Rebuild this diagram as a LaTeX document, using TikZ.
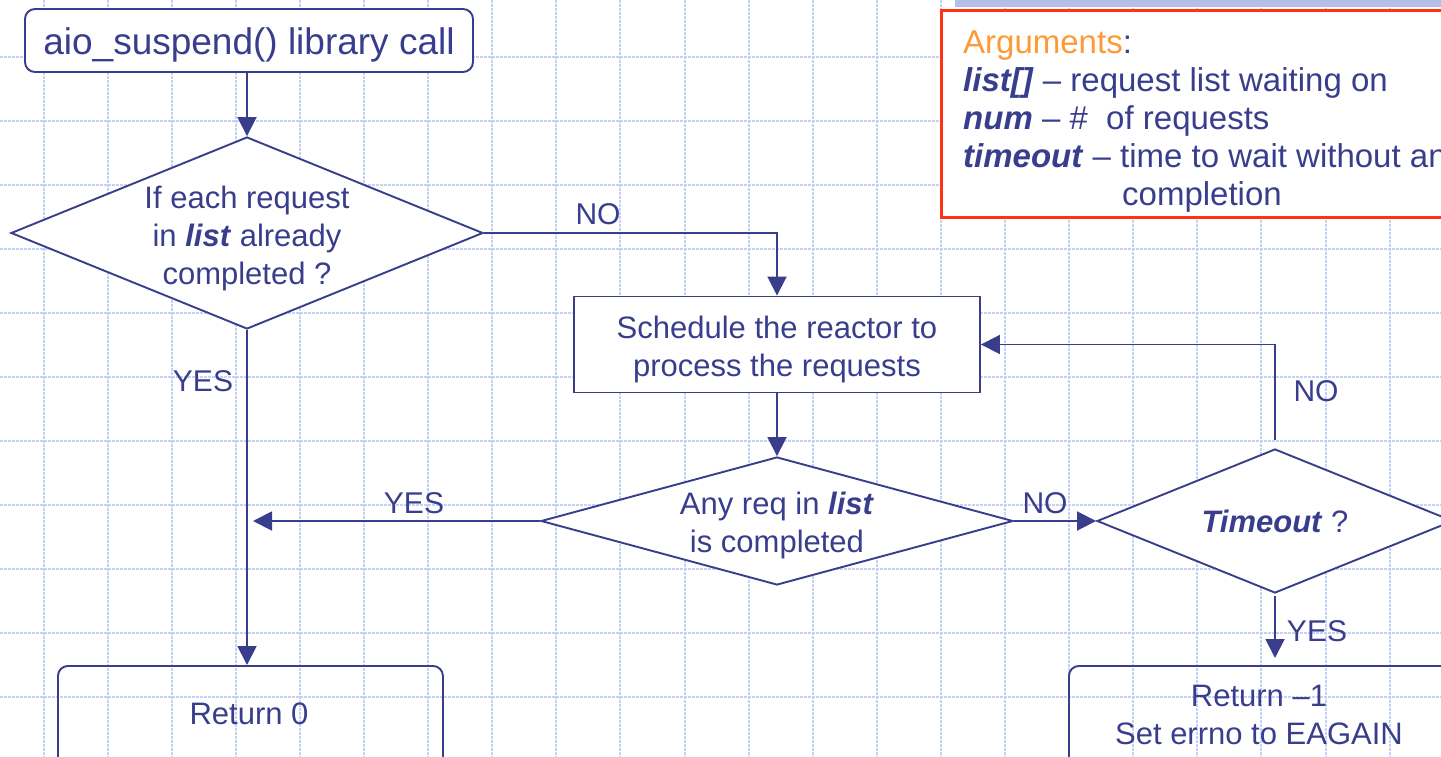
\documentclass[tikz,border=0pt]{standalone}
\usepackage{fontspec}
\setmainfont{Liberation Sans}
\usetikzlibrary{shapes.geometric,arrows.meta}

\definecolor{ink}{RGB}{56,62,140}
\definecolor{gridblue}{RGB}{195,210,248}
\definecolor{argred}{RGB}{255,51,17}
\definecolor{argorange}{RGB}{255,153,51}
\definecolor{band}{RGB}{180,190,232}

\newcommand{\fcBody}{\fontsize{31}{38}\selectfont}
\newcommand{\fcArgs}{\fontsize{33}{38}\selectfont}
\newcommand{\fcTitle}{\fontsize{37}{44}\selectfont}
\newcommand{\fcLab}{\fontsize{30}{36}\selectfont}
\newcommand{\bi}[1]{\textbf{\textit{#1}}}

\tikzset{
  gridline/.style={gridblue, line width=2pt, dash pattern=on 2.6pt off 1.4pt},
  flow/.style={draw=ink, line width=1.9pt, text=ink},
  arr/.style={draw=ink, line width=1.9pt, -{Triangle[length=19pt,width=19pt]}},
  decision/.style={flow, diamond, fill=white, inner sep=0pt},
  process/.style={flow, rectangle, fill=white, inner sep=0pt, align=center, font=\fcBody},
  retbox/.style={flow, rectangle, rounded corners=10pt, inner sep=0pt},
  txt/.style={text=ink, inner sep=0pt, align=center, font=\fcBody},
  lab/.style={text=ink, inner sep=0pt, font=\fcLab},
}

\begin{document}
\begin{tikzpicture}[x=1pt,y=-1pt]
\useasboundingbox (0,0) rectangle (1441,757);
\fill[white] (0,0) rectangle (1441,757);

% dotted background grid
\foreach \k in {0,...,21}
  \draw[gridline] ({43.5+64.1*\k},0) -- ({43.5+64.1*\k},757);
\foreach \k in {0,...,10}
  \draw[gridline] (0,{57.3+64*\k}) -- (1441,{57.3+64*\k});

% top strip behind the arguments panel
\fill[band] (955,0) rectangle (1441,7.5);

% arguments panel
\node[draw=argred, line width=3pt, fill=white, anchor=north west,
      minimum width=530pt, minimum height=206pt, inner sep=0pt] (argbox) at (940,9.5) {};
\node[txt, align=left, anchor=north west, font=\fcArgs] (argtext) at (963,30.5)
  {{\color{argorange}Arguments}:\\
   \bi{list[]} – request list waiting on\\
   \bi{num} – \#\ \ of requests\\
   \bi{timeout} – time to wait without any\\
   \hspace*{159pt}completion};

% flowchart nodes
\node[flow, rectangle, rounded corners=10pt, fill=white, inner sep=0pt,
      minimum width=448pt, minimum height=63pt, font=\fcTitle,
      text height=33pt, text depth=4pt] (title) at (249,40.5) {aio\_suspend() library call};

\node[decision, minimum width=472pt, minimum height=192pt] (d1) at (247,233) {};
\node[txt] (d1txt) at (247,238) {If each request\\in \bi{list} already\\completed ?};

\node[process, minimum width=406pt, minimum height=96pt] (sched) at (777,344.5)
  {\rule{0pt}{33pt}Schedule the reactor to\\process the requests};

\node[decision, minimum width=472pt, minimum height=128pt] (d2) at (777,521) {};
\node[txt] (d2txt) at (777,525.5) {Any req in \bi{list}\\is completed};

\node[decision, minimum width=356pt, minimum height=144pt] (tmo) at (1275,521) {};
\node[txt] (tmotxt) at (1275,521) {\bi{Timeout} ?};

\node[retbox, anchor=north west, minimum width=385pt, minimum height=130pt] (ret0) at (57,665) {};
\node[txt] (ret0txt) at (249,714) {Return 0};

\node[retbox, anchor=north west, minimum width=382pt, minimum height=130pt] (retm) at (1068,665) {};
\node[txt] (retmtxt) at (1259,715) {Return –1\\Set errno to EAGAIN};

\coordinate (yesend) at (253,521);

% connectors
\draw[arr] (d1.north |- title.south) -- (d1.north);
\draw[arr] (d1.east) -| (sched.north);
\draw[arr] (sched.south) -- (d2.north);
\draw[arr] (d1.south) -- (d1.south |- ret0.north);
\draw[arr] (d2.west) -- (yesend);
\draw[arr] (d2.east) -- (tmo.west);
\draw[arr, shorten <=8pt] (tmo.north) |- (sched.east);
\draw[arr, shorten <=2pt, shorten >=7pt] (tmo.south) -- (tmo.south |- retm.north);

% branch labels
\node[lab] (noA) at (598,214) {NO};
\node[lab] (yesA) at (203,381) {YES};
\node[lab] (yesB) at (414,503) {YES};
\node[lab] (noB) at (1045,503) {NO};
\node[lab] (noC) at (1316,391) {NO};
\node[lab] (yesC) at (1317,631) {YES};
\end{tikzpicture}
\end{document}
